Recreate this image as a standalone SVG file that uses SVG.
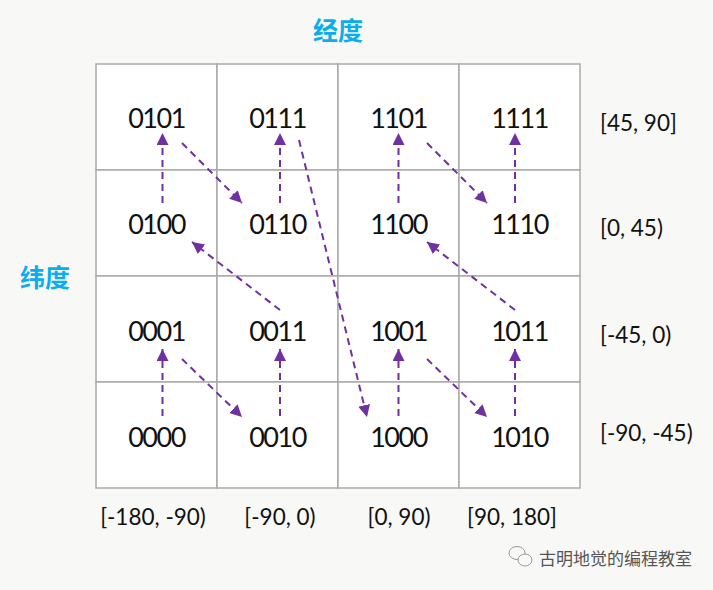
<svg xmlns="http://www.w3.org/2000/svg" width="713" height="590" viewBox="0 0 713 590">
<defs>
<marker id="ah" markerUnits="userSpaceOnUse" markerWidth="14" markerHeight="14" refX="12" refY="6" orient="auto">
<path d="M0,0 L12,6 L0,12 Z" fill="#7030a0"/>
</marker>
<style>
.cell{fill:#ffffff;stroke:#aaaaaa;stroke-width:1.5}
.code{font-family:"Lato","Liberation Sans",sans-serif;font-size:27px;fill:#111;text-anchor:middle;letter-spacing:-1.5px}
.lab{font-family:"Lato","Liberation Sans",sans-serif;font-size:22.5px;fill:#111}
.title{font-family:"Noto Sans CJK SC",sans-serif;font-size:25px;font-weight:bold;fill:#0aaeef;text-anchor:middle}
.arr{stroke:#7030a0;stroke-width:2;stroke-dasharray:7,5;fill:none;marker-end:url(#ah)}
.wm{font-family:"Noto Sans CJK SC",sans-serif;font-size:17px;fill:#555}
</style>
</defs>
<rect width="713" height="590" fill="#f8f8f6"/>
<text class="title" x="338" y="40">经度</text>
<text class="title" x="45" y="287">纬度</text>
<g id="n0101"><rect class="cell" x="96" y="64" width="121" height="106"/><text class="code" x="156.5" y="128">0101</text></g>
<g id="n0111"><rect class="cell" x="217" y="64" width="121" height="106"/><text class="code" x="277.5" y="128">0111</text></g>
<g id="n1101"><rect class="cell" x="338" y="64" width="121" height="106"/><text class="code" x="398.5" y="128">1101</text></g>
<g id="n1111"><rect class="cell" x="459" y="64" width="121" height="106"/><text class="code" x="519.5" y="128">1111</text></g>
<g id="n0100"><rect class="cell" x="96" y="170" width="121" height="106"/><text class="code" x="156.5" y="234">0100</text></g>
<g id="n0110"><rect class="cell" x="217" y="170" width="121" height="106"/><text class="code" x="277.5" y="234">0110</text></g>
<g id="n1100"><rect class="cell" x="338" y="170" width="121" height="106"/><text class="code" x="398.5" y="234">1100</text></g>
<g id="n1110"><rect class="cell" x="459" y="170" width="121" height="106"/><text class="code" x="519.5" y="234">1110</text></g>
<g id="n0001"><rect class="cell" x="96" y="276" width="121" height="106"/><text class="code" x="156.5" y="341">0001</text></g>
<g id="n0011"><rect class="cell" x="217" y="276" width="121" height="106"/><text class="code" x="277.5" y="341">0011</text></g>
<g id="n1001"><rect class="cell" x="338" y="276" width="121" height="106"/><text class="code" x="398.5" y="341">1001</text></g>
<g id="n1011"><rect class="cell" x="459" y="276" width="121" height="106"/><text class="code" x="519.5" y="341">1011</text></g>
<g id="n0000"><rect class="cell" x="96" y="382" width="121" height="106"/><text class="code" x="156.5" y="447">0000</text></g>
<g id="n0010"><rect class="cell" x="217" y="382" width="121" height="106"/><text class="code" x="277.5" y="447">0010</text></g>
<g id="n1000"><rect class="cell" x="338" y="382" width="121" height="106"/><text class="code" x="398.5" y="447">1000</text></g>
<g id="n1010"><rect class="cell" x="459" y="382" width="121" height="106"/><text class="code" x="519.5" y="447">1010</text></g>
<g id="connectors">
<line class="arr" x1="162.5" y1="416" x2="162.5" y2="349"/>
<line class="arr" x1="182" y1="359" x2="242" y2="417"/>
<line class="arr" x1="280" y1="416" x2="280" y2="349"/>
<line class="arr" x1="280" y1="310" x2="192" y2="242"/>
<line class="arr" x1="162.5" y1="203" x2="162.5" y2="133"/>
<line class="arr" x1="182" y1="143" x2="242" y2="203"/>
<line class="arr" x1="280" y1="203" x2="280" y2="133"/>
<line class="arr" x1="299" y1="140" x2="367" y2="417"/>
<line class="arr" x1="398.5" y1="416" x2="398.5" y2="349"/>
<line class="arr" x1="427" y1="359" x2="487" y2="417"/>
<line class="arr" x1="515" y1="416" x2="515" y2="349"/>
<line class="arr" x1="515" y1="310" x2="427" y2="242"/>
<line class="arr" x1="398.5" y1="203" x2="398.5" y2="133"/>
<line class="arr" x1="427" y1="143" x2="487" y2="203"/>
<line class="arr" x1="515" y1="203" x2="515" y2="133"/>
</g>
<text class="lab" x="600" y="131">[45, 90]</text>
<text class="lab" x="600" y="236">[0, 45)</text>
<text class="lab" x="600" y="343">[-45, 0)</text>
<text class="lab" x="600" y="441">[-90, -45)</text>
<text class="lab" x="153" y="525" text-anchor="middle">[-180, -90)</text>
<text class="lab" x="280" y="525" text-anchor="middle">[-90, 0)</text>
<text class="lab" x="399" y="525" text-anchor="middle">[0, 90)</text>
<text class="lab" x="512" y="525" text-anchor="middle">[90, 180]</text>
<g id="watermark" fill="#f8f8f6" stroke="#999" stroke-width="1">
<ellipse cx="517" cy="553" rx="8" ry="6.5"/>
<ellipse cx="525" cy="560" rx="7" ry="6"/>
</g>
<text class="wm" x="539" y="565">古明地觉的编程教室</text>
</svg>
